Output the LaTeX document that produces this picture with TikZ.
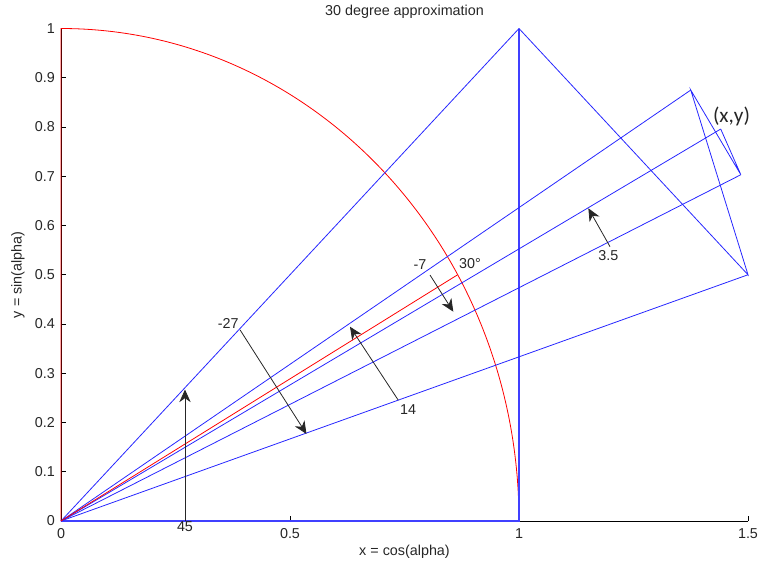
\documentclass[tikz,border=0pt]{standalone}
\usepackage{fontspec}
\setmainfont{Liberation Sans}
\newfontfamily\calibrifont{Carlito}
\usetikzlibrary{arrows.meta,calc}

\begin{document}
\begin{tikzpicture}[
  x=12.118cm, y=13.031cm,
  font=\fontsize{10.8pt}{12pt}\selectfont,
  vec/.style={draw=blue!85!white, line width=0.6pt},
  basevec/.style={draw=blue!75!white, line width=1.1pt},
  circ/.style={draw=red, line width=0.6pt},
  axis/.style={draw=black, line width=0.5pt},
  arr/.style={-{Stealth[length=9.5pt,width=8.5pt,inset=3pt]}, draw=black!85, line width=0.6pt},
  ticklab/.style={inner sep=1pt, text=black!85},
  lab/.style={inner sep=1pt, text=black!85}
]
\useasboundingbox (-0.1332,-0.0914) rectangle (1.5262,1.0579);

% cordic points
\coordinate (O) at (0,0);
\coordinate (P0) at (1,0);
\coordinate (P1) at (1,1);
\coordinate (P2) at (1.5,0.5);
\coordinate (P3) at (1.375,0.875);
\coordinate (P4) at (1.484375,0.703125);
\coordinate (P5) at (1.4404297,0.7958984);
\coordinate (T30) at (0.8660254,0.5);

% axes
\draw[axis] (O) -- (1.5,0);
\draw[axis] (O) -- (0,1);
\foreach \v [count=\i] in {0,0.1,0.2,0.3,0.4,0.5,0.6,0.7,0.8,0.9,1}{
  \draw[axis] (0,\v) -- (0.011,\v);
  \node[ticklab, anchor=east, xshift=-3.5pt] (ytick\i) at (0,\v) {\v};
}
\foreach \v [count=\i] in {0,0.5,1,1.5}{
  \draw[axis] (\v,0) -- (\v,0.0102);
  \node[ticklab, anchor=north, yshift=-4.5pt] (xtick\i) at (\v,0) {\v};
}
\node[lab] (title) at (0.75,1.0335) {30 degree approximation};
\node[lab] (xlabel) at (0.75,-0.063) {x = cos(alpha)};
\node[lab, rotate=90] (ylabel) at (-0.0939,0.5) {y = sin(alpha)};

% unit circle
\draw[circ] (O) -- (0,1) arc[start angle=90, end angle=0, radius=1];

% vectors
\draw[basevec] (O) -- (P0) -- (P1);
\draw[vec] (O) -- (P1);
\draw[vec] (O) -- (P2);
\draw[vec] (O) -- (P3);
\draw[vec] (O) -- (P4);
\draw[vec] (O) -- (P5);
\draw[vec] (P1) -- (P2) -- (P3) -- (P4) -- (P5);
\draw[circ] (O) -- (T30);

% rotation arrows
\coordinate (r45a) at (0.2707,0);
\coordinate (r45b) at (0.2707,0.267);
\coordinate (r27a) at (0.391,0.388);
\coordinate (r27b) at (0.536,0.1767);
\coordinate (r14a) at (0.7365,0.2452);
\coordinate (r14b) at (0.631,0.3945);
\coordinate (r7a) at (0.8057,0.4995);
\coordinate (r7b) at (0.8566,0.425);
\coordinate (r35a) at (1.1987,0.557);
\coordinate (r35b) at (1.1514,0.635);
\draw[arr] (r45a) -- (r45b);
\draw[arr] (r27a) -- (r27b);
\draw[arr] (r14a) -- (r14b);
\draw[arr] (r7a) -- (r7b);
\draw[arr] (r35a) -- (r35b);

\node[lab] (l45) at (0.2707,-0.0122) {45};
\node[lab] (l27) at (0.365,0.401) {-27};
\node[lab] (l14) at (0.758,0.2254) {14};
\node[lab] (l7) at (0.784,0.52) {-7};
\node[lab] (l30) at (0.893,0.523) {30°};
\node[lab] (l35) at (1.195,0.538) {3.5};
\node[lab, font=\calibrifont\fontsize{16pt}{18pt}\selectfont] (lxy) at (1.464,0.821) {(x,y)};
\end{tikzpicture}
\end{document}
